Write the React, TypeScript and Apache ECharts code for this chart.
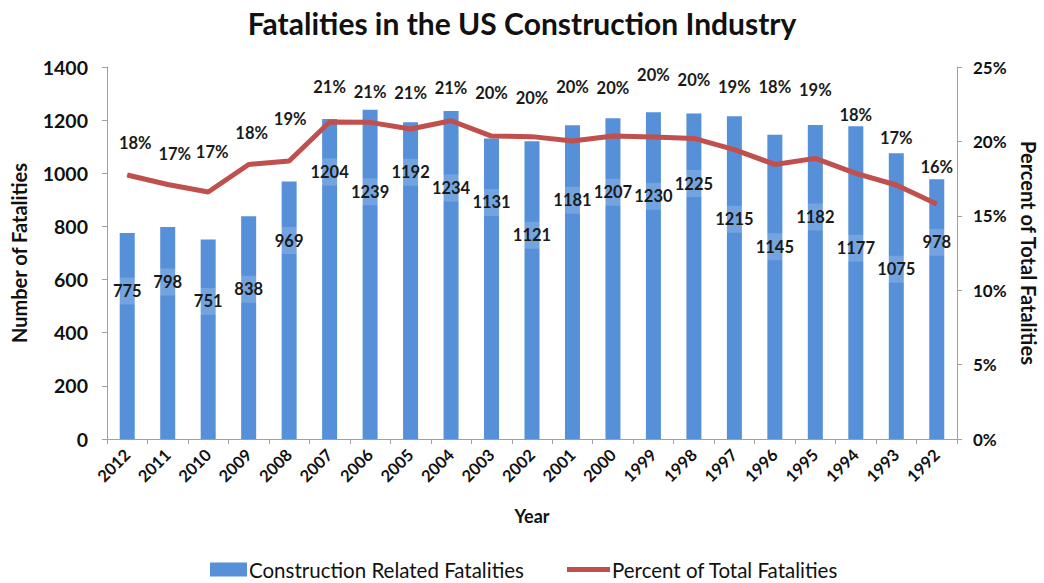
import React, { useEffect, useRef } from "react";
import * as echarts from "echarts";

const years = ["2012","2011","2010","2009","2008","2007","2006","2005","2004","2003","2002","2001","2000","1999","1998","1997","1996","1995","1994","1993","1992"];
const fatalities = [775, 798, 751, 838, 969, 1204, 1239, 1192, 1234, 1131, 1121, 1181, 1207, 1230, 1225, 1215, 1145, 1182, 1177, 1075, 978];
const percentOfTotal = [17.74, 17.1, 16.6, 18.45, 18.68, 21.3, 21.28, 20.83, 21.39, 20.36, 20.32, 20.03, 20.36, 20.3, 20.2, 19.45, 18.45, 18.86, 17.85, 17.07, 15.79];
const yLeftTicks = [0, 200, 400, 600, 800, 1000, 1200, 1400];
const yRightTicks = [0, 5, 10, 15, 20, 25];

// label placement (px below bar top / px above line point)
const barLabelDy = [58, 55, 62, 73, 59, 53, 82, 50, 77, 64, 94, 75, 74, 84, 70, 103, 112, 92, 122, 116, 63];
const pctLabelDy = [32, 31, 40, 31, 42, 35, 30, 36, 33, 43, 39, 54, 48, 62, 58, 63, 77, 68, 58, 47, 37];
const pctLabelDx = [8, 7, 4, 3, 1, 0, 0, 0, 0, 0, 0, 0, 0, 0, 0, 0, 0, 0, 0, 0, 0];

const FONT = "Lato, 'DejaVu Sans', sans-serif";
const BAR_NAME = "Construction Related Fatalities";
const LINE_NAME = "Percent of Total Fatalities";

export default function App() {
  const ref = useRef<HTMLDivElement>(null);
  useEffect(() => {
    if (!ref.current) return;
    const chart = echarts.init(ref.current, undefined, { renderer: "svg" });
    const axisLine = { show: true, lineStyle: { color: "#a0a0a0", width: 1 } };
    chart.setOption({
      animation: false,
      textStyle: { fontFamily: FONT },
      title: {
        text: "Fatalities in the US Construction Industry",
        left: "center",
        top: 3,
        textStyle: { fontFamily: FONT, fontSize: 30, fontWeight: "bold", color: "#111" },
      },
      legend: [
        {
          data: [{ name: BAR_NAME, icon: "rect" }],
          left: 210,
          top: 559,
          itemWidth: 37,
          itemHeight: 14,
          itemGap: 4,
          padding: 0,
          textStyle: { fontFamily: FONT, fontSize: 20.5, color: "#111", padding: [0, 0, 0, -3] },
        },
        {
          data: [{ name: LINE_NAME, icon: "rect" }],
          left: 567,
          top: 559,
          itemWidth: 43,
          itemHeight: 5,
          padding: 0,
          textStyle: { fontFamily: FONT, fontSize: 20.5, color: "#111", padding: [0, 0, 0, -3] },
        },
      ],
      grid: { left: 107, right: 87, top: 67, bottom: 144, outerBoundsMode: "none", containLabel: false },
      xAxis: {
        type: "category",
        data: years,
        name: "Year",
        nameLocation: "middle",
        nameGap: 68,
        nameTextStyle: { fontFamily: FONT, fontSize: 18, fontWeight: "bold", color: "#111" },
        axisLine,
        axisTick: { show: true, alignWithLabel: false, length: 5, lineStyle: { color: "#a0a0a0" } },
        axisLabel: { rotate: 45, fontFamily: FONT, fontSize: 16.5, fontWeight: "bold", color: "#111", margin: 13 },
        splitLine: { show: false },
      },
      yAxis: [
        {
          type: "value",
          min: yLeftTicks[0],
          max: yLeftTicks[yLeftTicks.length - 1],
          interval: yLeftTicks[1] - yLeftTicks[0],
          name: "Number of Fatalities",
          nameLocation: "middle",
          nameGap: 78,
          nameRotate: 90,
          nameTextStyle: { fontFamily: FONT, fontSize: 20, fontWeight: "bold", color: "#111" },
          axisLine,
          axisTick: { show: true, length: 5, lineStyle: { color: "#a0a0a0" } },
          axisLabel: { fontFamily: FONT, fontSize: 19.5, fontWeight: "bold", color: "#111", margin: 19, formatter: (v: number) => String(v) },
          splitLine: { show: false },
        },
        {
          type: "value",
          min: yRightTicks[0],
          max: yRightTicks[yRightTicks.length - 1],
          interval: yRightTicks[1] - yRightTicks[0],
          position: "right",
          name: "Percent of Total Fatalities",
          nameLocation: "middle",
          nameGap: 62,
          nameRotate: -90,
          nameTextStyle: { fontFamily: FONT, fontSize: 20, fontWeight: "bold", color: "#111" },
          axisLine,
          axisTick: { show: true, length: 5, lineStyle: { color: "#a0a0a0" } },
          axisLabel: { fontFamily: FONT, fontSize: 17, fontWeight: "bold", color: "#111", margin: 16, formatter: "{value}%" },
          splitLine: { show: false },
        },
      ],
      series: [
        {
          name: BAR_NAME,
          type: "bar",
          yAxisIndex: 0,
          barWidth: 15,
          itemStyle: { color: "#5590D8" },
          label: {
            show: true,
            align: "center",
            verticalAlign: "middle",
            fontFamily: FONT,
            fontSize: 16.5,
            fontWeight: "bold",
            color: "#1a1a1a",
            backgroundColor: "rgba(255,255,255,0.18)",
            padding: [5, 2, 5, 2],
          },
          data: fatalities.map((v, i) => ({
            value: v,
            label: { position: ["50%", barLabelDy[i]] },
          })),
        },
        {
          name: LINE_NAME,
          type: "line",
          yAxisIndex: 1,
          symbol: "circle",
          symbolSize: 1,
          showSymbol: true,
          lineStyle: { color: "#C0504D", width: 5 },
          itemStyle: { color: "#C0504D" },
          label: {
            show: true,
            position: "inside",
            fontFamily: FONT,
            fontSize: 16.5,
            fontWeight: "bold",
            color: "#1a1a1a",
            formatter: (p: any) => Math.round(p.value) + "%",
          },
          data: percentOfTotal.map((v, i) => ({
            value: v,
            label: { offset: [pctLabelDx[i], -pctLabelDy[i]] },
          })),
          z: 3,
        },
      ],
    });
    return () => chart.dispose();
  }, []);
  return <div ref={ref} style={{ width: 1044, height: 583, position: "absolute", left: 0, top: 0 }} />;
}
